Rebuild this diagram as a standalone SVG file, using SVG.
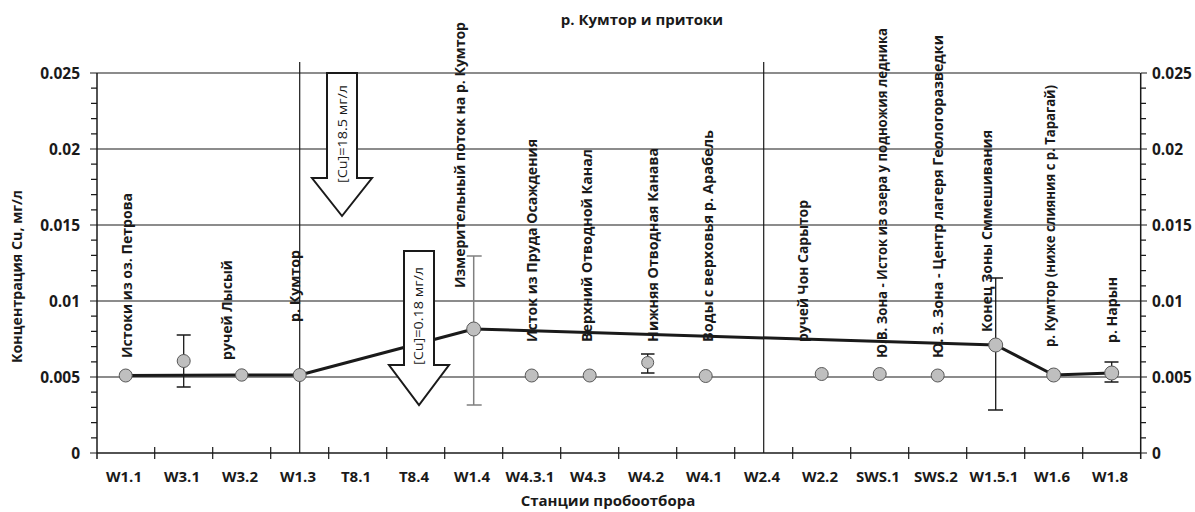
<svg xmlns="http://www.w3.org/2000/svg" width="1195" height="512" viewBox="0 0 1195 512">
<style>
.grid{stroke:#1a1a1a;stroke-width:1.2;fill:none}
.axis{stroke:#1a1a1a;stroke-width:1.5;fill:none}
.tick{stroke:#1a1a1a;stroke-width:1.2}
.num{font-family:"Open Sans","Liberation Sans",sans-serif;font-weight:700;font-size:15.5px;fill:#1a1a1a}
.cat{font-family:"Open Sans","Liberation Sans",sans-serif;font-weight:700;font-size:15px;fill:#1a1a1a;text-anchor:middle}
.ttl{font-family:"Open Sans","Liberation Sans",sans-serif;font-weight:700;font-size:15px;fill:#1a1a1a;text-anchor:middle}
.lbl{font-family:"Open Sans","Liberation Sans",sans-serif;font-weight:700;font-size:13.5px;fill:#1a1a1a}
.arrtxt{font-family:"Open Sans","Liberation Sans",sans-serif;font-weight:400;font-size:12.5px;fill:#1a1a1a}
.series{stroke:#1a1a1a;stroke-width:3;fill:none;stroke-linejoin:round}
.pt{fill:#bfbfbf;stroke:#595959;stroke-width:1}
.err{stroke:#1a1a1a;stroke-width:1.3;fill:none}
.errg{stroke:#808080;stroke-width:1.5;fill:none}
.arrow{fill:#ffffff;stroke:#1a1a1a;stroke-width:2;stroke-linejoin:miter}
</style>

<!-- title -->
<text class="ttl" x="642" y="25" font-size="16">р. Кумтор и притоки</text>

<!-- grid -->
<g id="grid">
<line class="grid" x1="97" y1="73" x2="1140" y2="73"/>
<line class="grid" x1="97" y1="149" x2="1140" y2="149"/>
<line class="grid" x1="97" y1="225" x2="1140" y2="225"/>
<line class="grid" x1="97" y1="301" x2="1140" y2="301"/>
<line class="grid" x1="97" y1="377" x2="1140" y2="377"/>
<line class="grid" x1="299.7" y1="62" x2="299.7" y2="453"/>
<line class="grid" x1="763.7" y1="62" x2="763.7" y2="453"/>
</g>

<!-- axes -->
<g id="axes">
<line class="axis" x1="97" y1="73" x2="97" y2="459"/>
<line class="axis" x1="1140.7" y1="73" x2="1140.7" y2="459"/>
<line class="axis" x1="97" y1="453" x2="1140.7" y2="453"/>
<path class="tick" d="M90 73H97M91 88.2H97M91 103.4H97M91 118.6H97M91 133.8H97M90 149H97M91 164.2H97M91 179.4H97M91 194.6H97M91 209.8H97M90 225H97M91 240.2H97M91 255.4H97M91 270.6H97M91 285.8H97M90 301H97M91 316.2H97M91 331.4H97M91 346.6H97M91 361.8H97M90 377H97M91 392.2H97M91 407.4H97M91 422.6H97M91 437.8H97M90 453H97"/>
<path class="tick" d="M1140.7 73H1147M1140.7 88.2H1146M1140.7 103.4H1146M1140.7 118.6H1146M1140.7 133.8H1146M1140.7 149H1147M1140.7 164.2H1146M1140.7 179.4H1146M1140.7 194.6H1146M1140.7 209.8H1146M1140.7 225H1147M1140.7 240.2H1146M1140.7 255.4H1146M1140.7 270.6H1146M1140.7 285.8H1146M1140.7 301H1147M1140.7 316.2H1146M1140.7 331.4H1146M1140.7 346.6H1146M1140.7 361.8H1146M1140.7 377H1147M1140.7 392.2H1146M1140.7 407.4H1146M1140.7 422.6H1146M1140.7 437.8H1146M1140.7 453H1147"/>
<path class="tick" d="M154.7 447V459M212.7 447V459M270.7 447V459M328.7 447V459M386.7 447V459M444.7 447V459M502.7 447V459M560.7 447V459M618.7 447V459M676.7 447V459M734.7 447V459M792.7 447V459M850.7 447V459M908.7 447V459M966.7 447V459M1024.7 447V459M1082.7 447V459"/>
</g>

<!-- y labels -->
<g id="ylabels-left" text-anchor="end">
<text class="num" x="80" y="78.5">0.025</text>
<text class="num" x="80" y="154.5">0.02</text>
<text class="num" x="80" y="230.5">0.015</text>
<text class="num" x="80" y="306.5">0.01</text>
<text class="num" x="80" y="382.5">0.005</text>
<text class="num" x="80" y="458.5">0</text>
</g>
<g id="ylabels-right">
<text class="num" x="1152" y="78.5">0.025</text>
<text class="num" x="1152" y="154.5">0.02</text>
<text class="num" x="1152" y="230.5">0.015</text>
<text class="num" x="1152" y="306.5">0.01</text>
<text class="num" x="1152" y="382.5">0.005</text>
<text class="num" x="1152" y="458.5">0</text>
</g>

<!-- x labels -->
<g id="xlabels">
<text class="cat" x="124" y="482">W1.1</text>
<text class="cat" x="182" y="482">W3.1</text>
<text class="cat" x="240" y="482">W3.2</text>
<text class="cat" x="298" y="482">W1.3</text>
<text class="cat" x="356" y="482">T8.1</text>
<text class="cat" x="414" y="482">T8.4</text>
<text class="cat" x="472" y="482">W1.4</text>
<text class="cat" x="530" y="482">W4.3.1</text>
<text class="cat" x="588" y="482">W4.3</text>
<text class="cat" x="646" y="482">W4.2</text>
<text class="cat" x="704" y="482">W4.1</text>
<text class="cat" x="762" y="482">W2.4</text>
<text class="cat" x="820" y="482">W2.2</text>
<text class="cat" x="878" y="482">SWS.1</text>
<text class="cat" x="936" y="482">SWS.2</text>
<text class="cat" x="994" y="482">W1.5.1</text>
<text class="cat" x="1052" y="482">W1.6</text>
<text class="cat" x="1110" y="482">W1.8</text>
</g>

<!-- axis titles -->
<text class="ttl" x="608" y="506">Станции пробоотбора</text>
<text class="lbl" transform="translate(21.5,363) rotate(-90)" textLength="173" lengthAdjust="spacingAndGlyphs" font-size="14">Концентрация Cu, мг/л</text>

<!-- error bars -->
<g id="errorbars">
<path class="err" d="M183.7 335V387M176.7 335H190.7M176.7 387H190.7"/>
<path class="errg" d="M473.7 256V405M466.7 256H481.7M466.7 405H481.7"/>
<path class="err" d="M647.7 354V373M641 354H654.5M641 373H654.5"/>
<path class="err" d="M995.7 278V410M988 278H1003M988 410H1003"/>
<path class="err" d="M1111.7 362V382M1104.5 362H1118.5M1104.5 382H1118.5"/>
</g>

<!-- connectors: series line -->
<g id="connectors">
<polyline class="series" points="125.7,375.5 241.7,375 299.7,375 473.7,329 995.7,345 1053.7,375 1111.7,373"/>
</g>

<!-- arrows -->
<g id="arrow1">
<path class="arrow" d="M327 73H357V178H372L342 216L312 178H327Z"/>
<text class="arrtxt" transform="translate(346.5,183) rotate(-90)" textLength="98" lengthAdjust="spacingAndGlyphs">[Cu]=18.5 мг/л</text>
</g>
<g id="arrow2">
<path class="arrow" d="M404 251H434V365H449L419 405L389 365H404Z"/>
<text class="arrtxt" transform="translate(422.5,365) rotate(-90)" textLength="98" lengthAdjust="spacingAndGlyphs">[Cu]=0.18 мг/л</text>
</g>

<!-- points -->
<g id="points">
<circle class="pt" cx="125.7" cy="375.5" r="6.5"/>
<circle class="pt" cx="183.7" cy="361" r="6.5"/>
<circle class="pt" cx="241.7" cy="375" r="6.2"/>
<circle class="pt" cx="299.7" cy="375" r="6.5"/>
<circle class="pt" cx="473.7" cy="329" r="7"/>
<circle class="pt" cx="531.7" cy="375.5" r="6.5"/>
<circle class="pt" cx="589.7" cy="375.5" r="6.5"/>
<circle class="pt" cx="647.7" cy="362.5" r="6"/>
<circle class="pt" cx="705.7" cy="376" r="6.5"/>
<circle class="pt" cx="821.7" cy="374" r="6.5"/>
<circle class="pt" cx="879.7" cy="374" r="6.5"/>
<circle class="pt" cx="937.7" cy="375.5" r="6.5"/>
<circle class="pt" cx="995.7" cy="345" r="7"/>
<circle class="pt" cx="1053.7" cy="375" r="7"/>
<circle class="pt" cx="1111.7" cy="373" r="7"/>
</g>

<!-- station labels -->
<g id="labels">
<text class="lbl" transform="translate(131.5,358) rotate(-90)" textLength="165" lengthAdjust="spacingAndGlyphs">Истоки из оз. Петрова</text>
<text class="lbl" transform="translate(231.5,360) rotate(-90)" textLength="100" lengthAdjust="spacingAndGlyphs">ручей Лысый</text>
<text class="lbl" transform="translate(299.5,322) rotate(-90)" textLength="72" lengthAdjust="spacingAndGlyphs">р. Кумтор</text>
<text class="lbl" transform="translate(464.5,288) rotate(-90)" textLength="266" lengthAdjust="spacingAndGlyphs">Измерительный поток на р. Кумтор</text>
<text class="lbl" transform="translate(536.5,342) rotate(-90)" textLength="203" lengthAdjust="spacingAndGlyphs">Исток из Пруда Осаждения</text>
<text class="lbl" transform="translate(591.5,342) rotate(-90)" textLength="193" lengthAdjust="spacingAndGlyphs">Верхний Отводной Канал</text>
<text class="lbl" transform="translate(657.5,342) rotate(-90)" textLength="194" lengthAdjust="spacingAndGlyphs">Нижняя Отводная Канава</text>
<text class="lbl" transform="translate(712.5,342) rotate(-90)" textLength="212" lengthAdjust="spacingAndGlyphs">Воды с верховья р. Арабель</text>
<text class="lbl" transform="translate(807.5,342) rotate(-90)" textLength="142" lengthAdjust="spacingAndGlyphs">ручей Чон Сарытор</text>
<text class="lbl" transform="translate(886.5,358) rotate(-90)" textLength="330" lengthAdjust="spacingAndGlyphs">Ю.В. Зона - Исток из озера у подножия ледника</text>
<text class="lbl" transform="translate(942.5,358) rotate(-90)" textLength="323" lengthAdjust="spacingAndGlyphs">Ю. З. Зона - Центр лагеря Геологоразведки</text>
<text class="lbl" transform="translate(991.5,332) rotate(-90)" textLength="202" lengthAdjust="spacingAndGlyphs">Конец Зоны Сммешивания</text>
<text class="lbl" transform="translate(1054.5,347) rotate(-90)" textLength="262" lengthAdjust="spacingAndGlyphs">р. Кумтор (ниже слияния с р. Тарагай)</text>
<text class="lbl" transform="translate(1116.5,343) rotate(-90)" textLength="66" lengthAdjust="spacingAndGlyphs">р. Нарын</text>
</g>
</svg>
